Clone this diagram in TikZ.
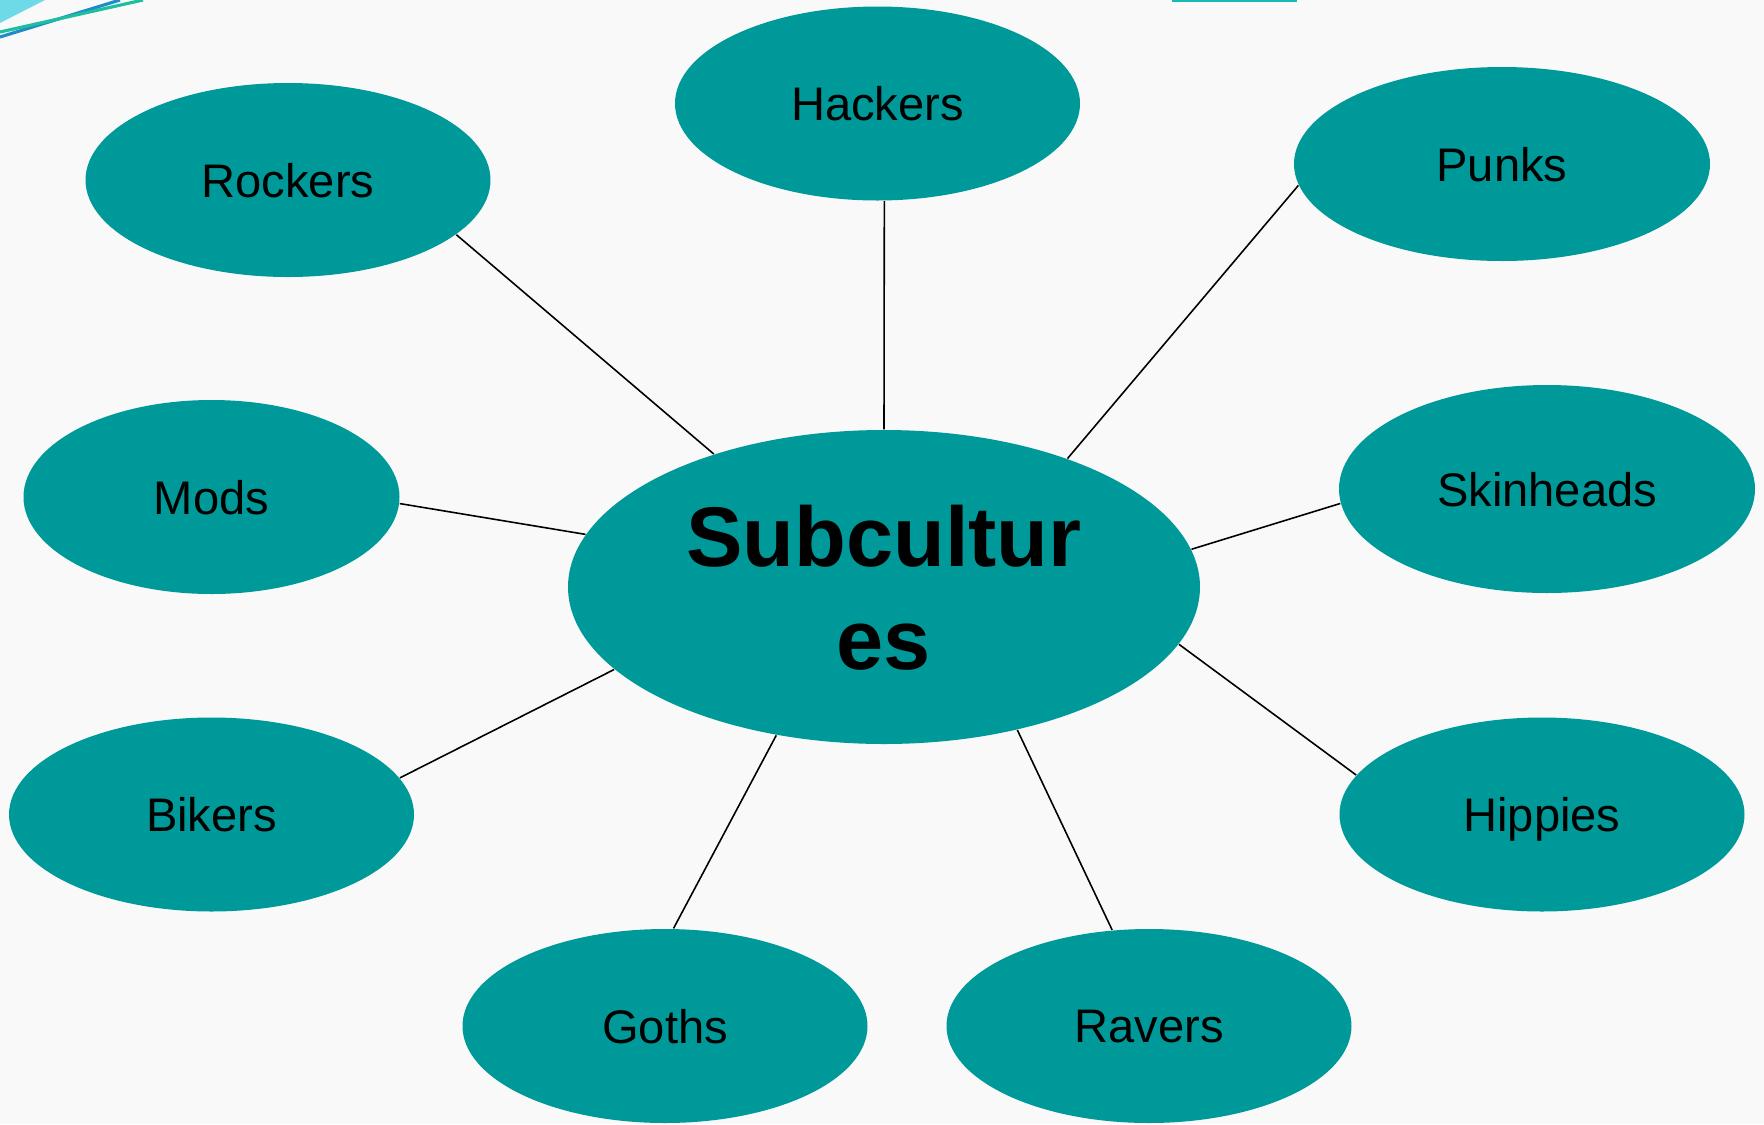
\documentclass[tikz,border=0pt]{standalone}
\usepackage{fontspec}
\setmainfont{Liberation Sans}
\usetikzlibrary{shapes.geometric}
\definecolor{bubblefill}{RGB}{0,153,153}
\definecolor{slidebg}{RGB}{249,249,249}
\definecolor{cornercyan}{RGB}{110,218,232}
\definecolor{cornerblue}{RGB}{30,140,200}
\definecolor{cornergreen}{RGB}{30,190,160}
\definecolor{topteal}{RGB}{25,185,185}

\begin{document}
\begin{tikzpicture}[x=0.1mm,y=-0.1mm]
	\fill[slidebg] (0,0) rectangle (1764,1124); %slide background
	\useasboundingbox (0,0) rectangle (1764,1124);
	\fill[cornercyan] (0,0) -- (45,0) -- (0,23) -- cycle; %corner decoration
	\draw[cornerblue,line width=0.9pt] (0,37) -- (120,0);
	\draw[cornergreen,line width=0.9pt] (0,32) -- (143,0);
	\draw[topteal,line width=0.9pt] (1172,0) -- (1297,0);
	\tikzset{bubble/.style={ellipse,fill=bubblefill,inner sep=0pt,text depth=0pt,minimum width=40.5mm,minimum height=19.4mm,font=\fontsize{13.4}{16}\selectfont}}
	\node[bubble,minimum width=63.2mm,minimum height=31.4mm,align=center,font=\fontsize{24.1}{29.4}\selectfont\bfseries] (sub) at (884,587) {Subcultur\\es}; %centre
	\node[bubble] (hackers) at (877.5,103.5) {Hackers}; %outer ring
	\node[bubble] (rockers) at (288,180) {Rockers};
	\node[bubble,minimum width=41.6mm] (punks) at (1502,164) {Punks};
	\node[bubble,minimum width=37.6mm] (mods) at (211.5,497) {Mods};
	\node[bubble,minimum width=41.6mm,minimum height=20.8mm] (skinheads) at (1547,489) {Skinheads};
	\node[bubble] (bikers) at (211.5,814.5) {Bikers};
	\node[bubble] (hippies) at (1542,814.5) {Hippies};
	\node[bubble] (goths) at (665,1026) {Goths};
	\node[bubble] (ravers) at (1149,1026) {Ravers};
	\foreach \n/\a/\b in {rockers/-18/142,hackers/-86/90,punks/-174/35,mods/-2/170,skinheads/184/7,bikers/11/197,hippies/168/-11,goths/85/234,ravers/111/-47}
		\draw[line width=0.45pt] (\n.\a) -- (sub.\b); %spokes
\end{tikzpicture}
\end{document}
